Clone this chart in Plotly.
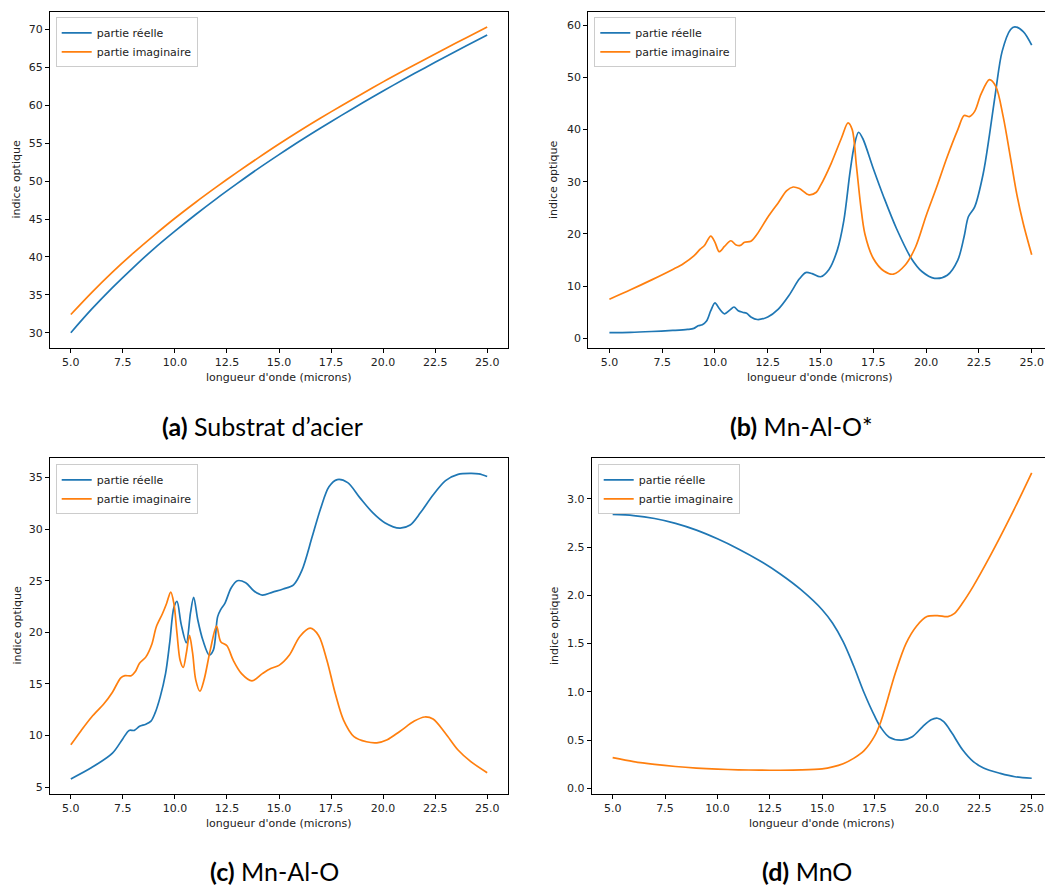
import plotly.graph_objects as go

W, H = 1045, 887
BLUE, ORANGE = "#1f77b4", "#ff7f0e"

# ---------------- data ----------------
# (a) Substrat d'acier
XA = [5, 6, 7, 8, 9, 10, 11, 12, 13, 14, 15, 16, 17, 18, 19, 20, 21, 22, 23, 24, 25]
YA_R = [30.0, 33.1, 35.95, 38.6, 41.1, 43.4, 45.6, 47.7, 49.7, 51.65, 53.5, 55.3, 57.02,
        58.68, 60.3, 61.9, 63.44, 64.94, 66.41, 67.86, 69.3]
YA_I = [32.4, 35.3, 38.0, 40.5, 42.85, 45.1, 47.22, 49.24, 51.19, 53.07, 54.9, 56.65, 58.33,
        59.95, 61.53, 63.1, 64.6, 66.06, 67.5, 68.93, 70.35]

# (b) Mn-Al-O*
XB_R = [5.0, 6.0, 7.0, 8.0, 8.7, 9.0, 9.2, 9.4, 9.6, 9.8, 10.0, 10.2, 10.45, 10.7, 10.9,
        11.1, 11.3, 11.5, 11.7, 12.0, 12.5, 13.0, 13.5, 14.0, 14.3, 14.6, 15.0, 15.4,
        15.8, 16.1, 16.4, 16.6, 16.8, 17.0, 17.5, 18.0, 18.6, 19.3, 19.8, 20.4, 21.0,
        21.5, 21.8, 22.0, 22.3, 22.7, 23.0, 23.3, 23.6, 24.0, 24.2, 24.6, 25.0]
YB_R = [1.1, 1.15, 1.3, 1.5, 1.7, 1.9, 2.4, 2.6, 3.3, 5.3, 6.8, 5.7, 4.7, 5.4, 6.0,
        5.3, 5.0, 4.8, 4.1, 3.6, 4.1, 5.6, 8.2, 11.4, 12.6, 12.4, 11.8, 13.2,
        17.0, 22.5, 32.0, 37.0, 39.5, 38.3, 32.5, 27.0, 21.0, 15.3, 12.8, 11.5, 12.1,
        15.0, 19.5, 23.3, 25.2, 31.5, 39.0, 47.5, 55.0, 59.2, 59.7, 58.8, 56.2]
XB_I = [5.0, 6.0, 7.0, 8.0, 8.5, 9.0, 9.3, 9.5, 9.8, 10.0, 10.2, 10.45, 10.75, 11.0,
        11.2, 11.4, 11.7, 12.0, 12.5, 13.0, 13.4, 13.7, 14.0, 14.45, 14.8, 15.0, 15.5,
        16.0, 16.3, 16.5, 16.7, 16.9, 17.1, 17.5, 18.0, 18.45, 19.0, 19.5, 20.0, 20.5,
        21.0, 21.5, 21.8, 22.05, 22.3, 22.6, 23.0, 23.3, 23.65, 24.0, 24.3, 24.6, 25.0]
YB_I = [7.5, 9.3, 11.2, 13.2, 14.3, 15.8, 17.1, 17.8, 19.6, 18.4, 16.6, 17.6, 18.7, 17.9,
        17.8, 18.4, 18.6, 20.0, 23.2, 26.0, 28.3, 29.0, 28.7, 27.5, 28.0, 29.3, 33.5,
        38.5, 41.3, 40.0, 33.0, 25.5, 20.0, 15.3, 12.9, 12.3, 14.0, 17.5, 23.5, 29.0,
        34.8, 40.0, 42.7, 42.5, 43.5, 46.8, 49.6, 48.3, 42.5, 34.5, 27.5, 22.0, 16.0]

# (c) Mn-Al-O
XC_R = [5.0, 6.0, 7.0, 7.5, 7.8, 8.05, 8.3, 8.6, 8.85, 9.05, 9.3, 9.55, 9.75, 9.95, 10.1,
        10.3, 10.55, 10.75, 10.9, 11.1, 11.35, 11.65, 11.85, 12.05, 12.2, 12.4, 12.7,
        13.0, 13.4, 13.8, 14.2, 14.7, 15.2, 15.7, 16.1, 16.6, 17.0, 17.4, 17.8, 18.3,
        18.9, 19.5, 20.1, 20.8, 21.3, 21.8, 22.4, 23.0, 23.6, 24.2, 24.6, 25.0]
YC_R = [5.8, 6.9, 8.3, 9.7, 10.5, 10.5, 10.9, 11.1, 11.4, 12.2, 13.8, 16.0, 19.0, 22.4, 23.0,
        20.8, 19.0, 21.9, 23.4, 21.2, 19.2, 17.8, 18.3, 21.5, 22.2, 22.8, 24.3,
        25.0, 24.8, 24.0, 23.6, 23.9, 24.2, 24.6, 26.0, 29.3, 32.0, 34.1, 34.8, 34.5,
        33.0, 31.6, 30.6, 30.1, 30.4, 31.6, 33.3, 34.7, 35.3, 35.4, 35.35, 35.1]
XC_I = [5.0, 5.5, 6.0, 6.6, 7.0, 7.4, 7.6, 7.9, 8.1, 8.3, 8.6, 8.9, 9.1, 9.4, 9.6, 9.8,
        9.95, 10.1, 10.25, 10.4, 10.55, 10.7, 10.85, 11.0, 11.2, 11.4, 11.7, 12.0, 12.2,
        12.5, 12.8, 13.2, 13.7, 14.2, 14.6, 15.0, 15.5, 16.0, 16.5, 16.9, 17.3, 17.7,
        18.1, 18.6, 19.2, 19.7, 20.2, 20.8, 21.5, 22.0, 22.4, 23.0, 23.6, 24.2, 25.0]
YC_I = [9.1, 10.5, 11.8, 13.1, 14.2, 15.6, 15.8, 15.8, 16.2, 17.0, 17.6, 18.9, 20.5, 21.8,
        22.8, 23.9, 22.8, 19.9, 17.3, 16.6, 18.0, 19.7, 18.0, 15.4, 14.3, 15.4, 18.3,
        20.6, 19.1, 18.7, 17.3, 16.0, 15.3, 16.0, 16.5, 16.8, 17.8, 19.6, 20.4, 19.7,
        17.3, 14.1, 11.5, 9.9, 9.4, 9.3, 9.6, 10.4, 11.4, 11.8, 11.6, 10.2, 8.6, 7.5, 6.4]

# (d) MnO
XD_R = [5, 6, 7, 8, 9, 10, 11, 12, 13, 14, 15, 15.5, 16, 16.5, 17, 17.5, 17.8, 18.2,
        18.8, 19.3, 19.8, 20.2, 20.5, 20.8, 21.2, 21.7, 22.2, 22.7, 23.5, 24.2, 25]
YD_R = [2.838, 2.826, 2.796, 2.746, 2.676, 2.586, 2.481, 2.361, 2.221, 2.056, 1.851, 1.71,
        1.52, 1.27, 0.99, 0.75, 0.63, 0.53, 0.50, 0.535, 0.64, 0.71, 0.726, 0.69, 0.57,
        0.40, 0.28, 0.21, 0.155, 0.12, 0.104]
XD_I = [5, 6, 7, 8, 9, 10, 11, 12, 13, 14, 15, 15.5, 16, 16.5, 17, 17.5, 17.8, 18, 18.5,
        19, 19.5, 20, 20.5, 21, 21.3, 21.7, 22.2, 23, 24, 25]
YD_I = [0.318, 0.277, 0.248, 0.226, 0.21, 0.199, 0.192, 0.188, 0.187, 0.19, 0.202, 0.222,
        0.255, 0.31, 0.39, 0.54, 0.69, 0.83, 1.20, 1.50, 1.68, 1.78, 1.79, 1.78, 1.81,
        1.92, 2.09, 2.40, 2.82, 3.27]

LABEL_R = "partie réelle"
LABEL_I = "partie imaginaire"
X_TITLE = "longueur d'onde (microns)"
Y_TITLE = "indice optique"
CAPTIONS = [("(a)", "Substrat d’acier"), ("(b)", "Mn-Al-O*"),
            ("(c)", "Mn-Al-O"), ("(d)", "MnO")]
X_TICKS = [5.0, 7.5, 10.0, 12.5, 15.0, 17.5, 20.0, 22.5, 25.0]
Y_TICKS = [[30, 35, 40, 45, 50, 55, 60, 65, 70],
           [0, 10, 20, 30, 40, 50, 60],
           [5, 10, 15, 20, 25, 30, 35],
           [0.0, 0.5, 1.0, 1.5, 2.0, 2.5, 3.0]]

# ---------------- layout geometry (pixels) ----------------
PANELS = [
    dict(box=(50, 508, 12, 348), xr=[4.0, 26.0], yr=[27.98, 72.32], mirror_y=True),
    dict(box=(588.3, 1045, 12, 348), xr=[4.0, 25.63], yr=[-1.86, 62.55], mirror_y=False),
    dict(box=(50, 508, 458.3, 794), xr=[4.0, 26.0], yr=[4.34, 36.86], mirror_y=True),
    dict(box=(591.7, 1045, 458.3, 794), xr=[4.0, 25.635], yr=[-0.059, 3.42], mirror_y=False),
]
SERIES = [(XA, YA_R, XA, YA_I), (XB_R, YB_R, XB_I, YB_I),
          (XC_R, YC_R, XC_I, YC_I), (XD_R, YD_R, XD_I, YD_I)]
LEGEND_POS = [(55.7, 17.3), (594.3, 17.3), (55.7, 464.3), (597.7, 464.3)]
XTITLE_POS = [(279, 377), (820, 377), (279, 823), (822, 823)]
YTITLE_POS = [(16.5, 180), (554, 180), (16.5, 626), (554, 626)]
CAPTION_POS = [(262, 426), (801, 426), (274, 871), (807, 871)]

def px(x):
    return x / W

def py(y):
    return 1 - y / H

fig = go.Figure()
layout = dict(width=W, height=H, autosize=False, margin=dict(l=0, r=0, t=0, b=0),
              paper_bgcolor="white", plot_bgcolor="white", annotations=[],
              font=dict(family="DejaVu Sans", size=11, color="#222"))

for i, (p, s) in enumerate(zip(PANELS, SERIES)):
    n = "" if i == 0 else str(i + 1)
    leg = "legend" + n
    xa, ya = "x" + n, "y" + n
    fig.add_trace(go.Scatter(x=s[0], y=s[1], mode="lines", name=LABEL_R,
                             line=dict(color=BLUE, width=1.7, shape="spline", smoothing=0.9),
                             xaxis=xa, yaxis=ya, legend=leg))
    fig.add_trace(go.Scatter(x=s[2], y=s[3], mode="lines", name=LABEL_I,
                             line=dict(color=ORANGE, width=1.7, shape="spline", smoothing=0.9),
                             xaxis=xa, yaxis=ya, legend=leg))
    l, r, t, b = p["box"]
    common = dict(showgrid=False, zeroline=False, showline=True, linecolor="black",
                  linewidth=1, ticks="outside", ticklen=4, tickwidth=1, tickcolor="black",
                  tickfont=dict(family="DejaVu Sans", size=11, color="#222"))
    layout["xaxis" + n] = dict(domain=[px(l), px(r)], range=p["xr"], anchor=ya,
                               tickvals=X_TICKS, tickformat=".1f", mirror=True, **common)
    yt = Y_TICKS[i]
    layout["yaxis" + n] = dict(domain=[py(b), py(t)], range=p["yr"], anchor=xa,
                               tickvals=yt, tickformat=".1f" if i == 3 else "d",
                               mirror=p["mirror_y"], **common)
    lx, ly = LEGEND_POS[i]
    layout[leg] = dict(x=px(lx), y=py(ly), xanchor="left", yanchor="top",
                       xref="paper", yref="paper",
                       bgcolor="rgba(255,255,255,0.8)", bordercolor="#cccccc", borderwidth=1,
                       font=dict(family="DejaVu Sans", size=11, color="#222"),
                       itemwidth=30, tracegroupgap=0)
    tx, ty = XTITLE_POS[i]
    layout["annotations"].append(dict(text=X_TITLE, x=px(tx), y=py(ty), xref="paper",
                                      yref="paper", showarrow=False, xanchor="center",
                                      yanchor="middle",
                                      font=dict(family="DejaVu Sans", size=11, color="#222")))
    tx, ty = YTITLE_POS[i]
    layout["annotations"].append(dict(text=Y_TITLE, x=px(tx), y=py(ty), xref="paper",
                                      yref="paper", showarrow=False, xanchor="center",
                                      yanchor="middle", textangle=-90,
                                      font=dict(family="DejaVu Sans", size=11, color="#222")))
    cx, cy = CAPTION_POS[i]
    tag, name = CAPTIONS[i]
    layout["annotations"].append(dict(text="<b>" + tag + "</b> " + name, x=px(cx), y=py(cy),
                                      xref="paper", yref="paper", showarrow=False,
                                      xanchor="center", yanchor="middle",
                                      font=dict(family="Lato", size=25, color="black")))

fig.update_layout(**layout)
fig.write_html("out.html", config={"displayModeBar": False},
               post_script="document.body.style.margin='0';"
                           "document.body.style.overflow='hidden';")
